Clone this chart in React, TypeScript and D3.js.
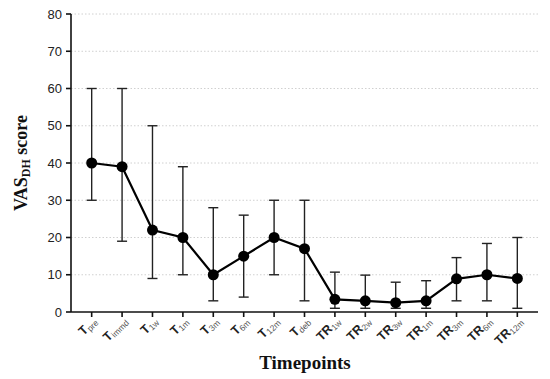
import React from "react";
import * as d3 from "d3";

const categories = ["pre", "immd", "1w", "1m", "3m", "6m", "12m", "deb", "1w", "2w", "3w", "1m", "3m", "6m", "12m"];
const prefixes = ["T", "T", "T", "T", "T", "T", "T", "T", "TR", "TR", "TR", "TR", "TR", "TR", "TR"];
const means = [40, 39, 22, 20, 10, 15, 20, 17, 3.4, 3, 2.5, 3, 8.9, 10, 9];
const lows = [30, 19, 9, 10, 3, 4, 10, 3, 1, 1, 1, 1, 3, 3, 1];
const highs = [60, 60, 50, 39, 28, 26, 30, 30, 10.7, 9.9, 8, 8.4, 14.6, 18.4, 20];
const yTicks = [0, 10, 20, 30, 40, 50, 60, 70, 80];

const W = 550, H = 379;
const left = 71, right = 538, top = 14, bottom = 312;

const charW: Record<string, number> = {
  T: 0.611, R: 0.722, p: 0.556, r: 0.333, e: 0.556, i: 0.222, m: 0.833, d: 0.556,
  w: 0.722, n: 0.556, b: 0.556, "1": 0.556, "2": 0.556, "3": 0.556, "6": 0.556,
};
const textW = (s: string, size: number) => s.split("").reduce((a, ch) => a + (charW[ch] || 0.556) * size, 0);

export default function App() {
  const idx = categories.map((_, i) => i);
  const x = d3.scalePoint<number>().domain(idx).range([left, right]).padding(0.68);
  const y = d3.scaleLinear().domain([0, 80]).range([bottom, top]);
  const line = d3.line<number>().x((i) => x(i)!).y((i) => y(means[i]));
  const sans = "Liberation Sans, Arial, sans-serif";
  const serif = "Liberation Serif, Times New Roman, serif";
  const pSize = 12.5, sSize = 8.5;
  return (
    <svg width={W} height={H} style={{ position: "absolute", left: 0, top: 0 }}>
      <rect width={W} height={H} fill="#fff" />
      {yTicks.filter((t) => t > 0).map((t) => (
        <line key={"g" + t} x1={left} x2={right} y1={y(t)} y2={y(t)} stroke="#d0d0d0" strokeWidth={1} strokeDasharray="1.5,2" />
      ))}
      <line x1={left} x2={left} y1={top} y2={bottom} stroke="#111" strokeWidth={1.6} />
      <line x1={left} x2={right} y1={bottom} y2={bottom} stroke="#111" strokeWidth={1.6} />
      {yTicks.map((t) => (
        <g key={"y" + t}>
          <line x1={left - 5} x2={left} y1={y(t)} y2={y(t)} stroke="#111" strokeWidth={1.6} />
          <text x={left - 9} y={y(t)} dy="0.36em" textAnchor="end" fontFamily={sans} fontSize={13} fill="#222">{t}</text>
        </g>
      ))}
      {idx.map((i) => {
        const pw = textW(prefixes[i], pSize);
        const sw = textW(categories[i], sSize);
        const L = pw + sw;
        return (
          <g key={"x" + i}>
            <line x1={x(i)} x2={x(i)} y1={bottom} y2={bottom + 5} stroke="#111" strokeWidth={1.6} />
            <g transform={`translate(${x(i)! + 6},${bottom + 10}) rotate(-45)`}>
              <text x={-L} y={0} fontFamily={sans} fontSize={pSize} fontWeight="bold" fill="#222">{prefixes[i]}</text>
              <text x={-L + pw} y={2} fontFamily={sans} fontSize={sSize} fill="#555">{categories[i]}</text>
            </g>
          </g>
        );
      })}
      {idx.map((i) => (
        <g key={"e" + i} stroke="#222" strokeWidth={1.4}>
          <line x1={x(i)} x2={x(i)} y1={y(lows[i])} y2={y(highs[i])} />
          <line x1={x(i)! - 5} x2={x(i)! + 5} y1={y(lows[i])} y2={y(lows[i])} />
          <line x1={x(i)! - 5} x2={x(i)! + 5} y1={y(highs[i])} y2={y(highs[i])} />
        </g>
      ))}
      <path d={line(idx) || ""} fill="none" stroke="#000" strokeWidth={2.2} />
      {idx.map((i) => (
        <circle key={"c" + i} cx={x(i)} cy={y(means[i])} r={5.5} fill="#000" />
      ))}
      <g transform="translate(27,163)">
        <text transform="rotate(-90)" textAnchor="middle" fontFamily={serif} fontWeight="bold" fontSize={18} fill="#111">
          VAS<tspan fontSize={12} dy={3}>DH</tspan><tspan dy={-3}> score</tspan>
        </text>
      </g>
      <text x={305} y={369} textAnchor="middle" fontFamily={serif} fontWeight="bold" fontSize={19} fill="#111">Timepoints</text>
    </svg>
  );
}
